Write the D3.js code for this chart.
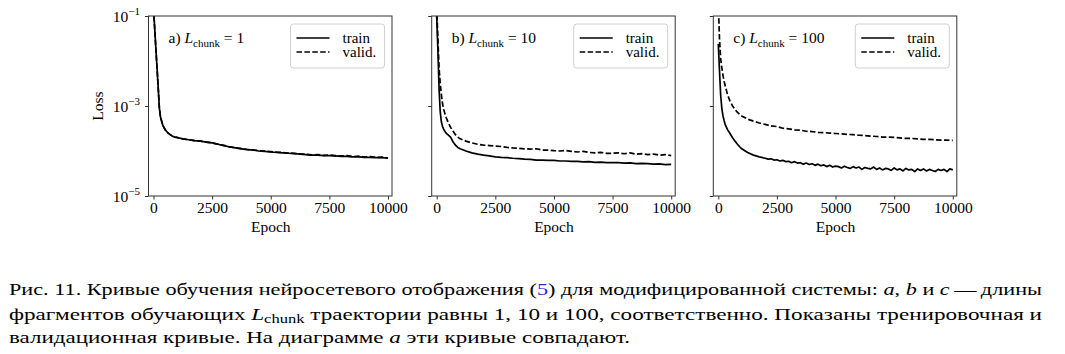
<!DOCTYPE html>
<html>
<head>
<meta charset="utf-8">
<script src="https://cdn.jsdelivr.net/npm/d3@7"></script>
<style>
  html, body { margin: 0; padding: 0; background: #fff; }
  svg { display: block; }
  svg text { font-family: "Liberation Serif", "DejaVu Serif", serif; }
</style>
</head>
<body>
<svg id="chart" width="1065" height="354"></svg>
<script>
// ---------------- DATA ----------------
const epochs = [0, 50, 100, 150, 200, 250, 300, 400, 500, 600, 700, 800, 900, 1000,
  1250, 1500, 1750, 2000, 2250, 2500, 2750, 3000, 3250, 3500, 3750, 4000, 4250, 4500,
  4750, 5000, 5250, 5500, 5750, 6000, 6250, 6500, 6750, 7000, 7250, 7500, 7750, 8000,
  8250, 8500, 8750, 9000, 9250, 9500, 9750, 10000];

// epochs for the noisy train curve of panel c (denser sampling in the tail)
const epochsC = [0, 50, 100, 150, 200, 250, 300, 400, 500, 600, 700, 800, 900, 1000,
  1250, 1500, 1750, 2000, 2125, 2250, 2375, 2500, 2625, 2750, 2875, 3000, 3125, 3250,
  3375, 3500, 3625, 3750, 3875, 4000, 4125, 4250, 4375, 4500, 4625, 4750, 4875, 5000,
  5125, 5250, 5375, 5500, 5625, 5750, 5875, 6000, 6125, 6250, 6375, 6500, 6625, 6750,
  6875, 7000, 7125, 7250, 7375, 7500, 7625, 7750, 7875, 8000, 8125, 8250, 8375, 8500,
  8625, 8750, 8875, 9000, 9125, 9250, 9375, 9500, 9625, 9750, 9875, 10000];

// a) L_chunk = 1
const trainA = [1.5e-1, 5.4e-2, 1.95e-2, 7.1e-3, 2.6e-3, 9.1e-4, 5.6e-4, 3.7e-4, 2.95e-4, 2.57e-4,
  2.34e-4, 2.14e-4, 2.04e-4, 2.0e-4, 1.86e-4, 1.78e-4, 1.70e-4, 1.66e-4, 1.58e-4, 1.51e-4,
  1.41e-4, 1.32e-4, 1.23e-4, 1.17e-4, 1.12e-4, 1.07e-4, 1.05e-4, 1.0e-4, 9.8e-5, 9.5e-5,
  9.3e-5, 9.1e-5, 8.9e-5, 8.7e-5, 8.5e-5, 8.3e-5, 8.1e-5, 8.1e-5, 7.9e-5, 7.9e-5,
  7.8e-5, 7.6e-5, 7.6e-5, 7.4e-5, 7.4e-5, 7.2e-5, 7.2e-5, 7.1e-5, 7.1e-5, 6.9e-5];
const validA = [1.5e-1, 5.4e-2, 1.95e-2, 7.1e-3, 2.6e-3, 9.1e-4, 5.6e-4, 3.7e-4, 2.95e-4, 2.57e-4,
  2.34e-4, 2.14e-4, 2.04e-4, 2.0e-4, 1.86e-4, 1.78e-4, 1.70e-4, 1.66e-4, 1.58e-4, 1.51e-4,
  1.42e-4, 1.33e-4, 1.24e-4, 1.18e-4, 1.13e-4, 1.08e-4, 1.06e-4, 1.01e-4, 9.9e-5, 9.7e-5,
  9.4e-5, 9.3e-5, 9.0e-5, 8.9e-5, 8.6e-5, 8.5e-5, 8.2e-5, 8.3e-5, 8.0e-5, 8.1e-5,
  7.9e-5, 7.8e-5, 7.9e-5, 7.5e-5, 7.7e-5, 7.3e-5, 7.5e-5, 7.2e-5, 7.3e-5, 7.0e-5];

// b) L_chunk = 10
const trainB = [1.0e-1, 1.78e-2, 2.5e-3, 7.6e-4, 4.4e-4, 3.5e-4, 3.0e-4, 2.5e-4, 2.24e-4, 2.0e-4,
  1.58e-4, 1.35e-4, 1.2e-4, 1.12e-4, 1.0e-4, 9.1e-5, 8.5e-5, 8.1e-5, 7.8e-5, 7.4e-5,
  7.2e-5, 7.1e-5, 6.9e-5, 6.8e-5, 6.6e-5, 6.5e-5, 6.3e-5, 6.3e-5, 6.2e-5, 6.2e-5,
  6.0e-5, 6.0e-5, 5.9e-5, 5.9e-5, 5.75e-5, 5.8e-5, 5.6e-5, 5.65e-5, 5.5e-5, 5.55e-5,
  5.5e-5, 5.4e-5, 5.45e-5, 5.25e-5, 5.3e-5, 5.25e-5, 5.1e-5, 5.15e-5, 5.0e-5, 5.05e-5];
const validB = [1.6e-1, 3.2e-2, 7.1e-3, 3.2e-3, 1.78e-3, 1.12e-3, 8.3e-4, 5.6e-4, 4.2e-4, 3.3e-4,
  2.75e-4, 2.3e-4, 2.04e-4, 1.86e-4, 1.66e-4, 1.51e-4, 1.41e-4, 1.35e-4, 1.32e-4, 1.29e-4,
  1.26e-4, 1.2e-4, 1.17e-4, 1.15e-4, 1.12e-4, 1.10e-4, 1.12e-4, 1.05e-4, 1.05e-4, 1.02e-4,
  1.0e-4, 1.02e-4, 9.8e-5, 9.5e-5, 9.8e-5, 9.3e-5, 9.1e-5, 9.3e-5, 8.9e-5, 8.9e-5,
  9.1e-5, 8.7e-5, 9.1e-5, 8.5e-5, 8.7e-5, 8.3e-5, 8.5e-5, 8.1e-5, 8.3e-5, 7.9e-5];

// c) L_chunk = 100  (trainC follows epochsC, validC follows epochs)
const trainC = [2.4e-2, 6.3e-3, 1.78e-3, 8.9e-4, 6.0e-4, 4.7e-4, 3.8e-4, 2.95e-4, 2.45e-4, 2.0e-4,
  1.70e-4, 1.45e-4, 1.26e-4, 1.12e-4, 9.3e-5, 8.1e-5, 7.4e-5, 6.9e-5,
  6.6e-5, 6.7e-5, 6.3e-5, 6.4e-5, 6.0e-5, 6.2e-5, 5.8e-5, 5.9e-5, 5.5e-5, 5.8e-5,
  5.4e-5, 5.5e-5, 5.1e-5, 5.4e-5, 5.0e-5, 5.2e-5, 4.8e-5, 5.1e-5, 4.7e-5, 4.9e-5,
  4.5e-5, 4.8e-5, 4.4e-5, 4.6e-5, 4.5e-5, 4.2e-5, 4.6e-5, 4.3e-5, 4.1e-5, 4.5e-5,
  4.2e-5, 4.4e-5, 3.9e-5, 4.3e-5, 4.1e-5, 4.0e-5, 4.4e-5, 3.9e-5, 4.2e-5, 3.8e-5,
  4.1e-5, 4.0e-5, 3.7e-5, 4.2e-5, 3.8e-5, 4.0e-5, 3.6e-5, 4.1e-5, 3.8e-5, 3.9e-5,
  3.5e-5, 4.0e-5, 3.7e-5, 4.0e-5, 3.6e-5, 3.9e-5, 3.7e-5, 3.5e-5, 3.9e-5, 3.7e-5,
  3.9e-5, 3.5e-5, 4.0e-5, 3.8e-5];
const validC = [2.0e-1, 3.2e-2, 1.12e-2, 7.1e-3, 4.8e-3, 3.5e-3, 2.75e-3, 1.74e-3, 1.29e-3, 1.02e-3,
  8.5e-4, 7.4e-4, 6.6e-4, 6.0e-4, 5.1e-4, 4.6e-4, 4.2e-4, 3.9e-4, 3.6e-4, 3.5e-4,
  3.2e-4, 3.1e-4, 2.95e-4, 2.9e-4, 2.75e-4, 2.7e-4, 2.6e-4, 2.57e-4, 2.5e-4, 2.45e-4,
  2.4e-4, 2.34e-4, 2.3e-4, 2.24e-4, 2.2e-4, 2.14e-4, 2.1e-4, 2.04e-4, 2.04e-4, 2.0e-4,
  1.95e-4, 1.9e-4, 1.9e-4, 1.86e-4, 1.82e-4, 1.82e-4, 1.78e-4, 1.74e-4, 1.74e-4, 1.72e-4];

const panelLabels = ["a)", "b)", "c)"];
const chunkValues = ["1", "10", "100"];
const xTicks = [0, 2500, 5000, 7500, 10000];
const yTicks = [1e-1, 1e-3, 1e-5];
const yTickExponents = ["\u22121", "\u22123", "\u22125"];
const legendLabels = ["train", "valid."];
const xLabel = "Epoch";
const yLabel = "Loss";

const captionLines = [
  [["Рис. 11. Кривые обучения нейросетевого отображения (", ""], ["5", "link"], [") для модифицированной системы: ", ""], ["a", "it"], [", ", ""], ["b", "it"], [" и ", ""], ["c", "it"], ["\u2009—\u2009длины", ""]],
  [["фрагментов обучающих ", ""], ["L", "it"], ["chunk", "sub"], [" траектории равны 1, 10 и 100, соответственно. Показаны тренировочная и", "base"]],
  [["валидационная кривые. На диаграмме ", ""], ["a", "it"], [" эти кривые совпадают.", ""]]
];

// ---------------- LAYOUT ----------------
const svg = d3.select("#chart");
const serif = "Liberation Serif, DejaVu Serif, serif";
const panelLefts = [148.5, 431.7, 713.3];
const panelW = 243.5, plotTop = 16, panelH = 180;
const series = [
  [[epochs, trainA], [epochs, validA]],
  [[epochs, trainB], [epochs, validB]],
  [[epochsC, trainC], [epochs, validC]]
];

panelLefts.forEach((left, i) => {
  const x = d3.scaleLinear().domain([-213, 10171]).range([left, left + panelW]);
  const y = d3.scaleLog().domain([1e-5, 1e-1]).range([plotTop + panelH, plotTop]);
  const g = svg.append("g");

  const clipId = "clip" + i;
  svg.append("clipPath").attr("id", clipId).append("rect")
    .attr("x", left).attr("y", plotTop).attr("width", panelW).attr("height", panelH);

  const line = d3.line().x(d => x(d[0])).y(d => y(d[1]));
  const zip = ([ep, vals]) => vals.map((v, k) => [ep[k], v]);
  const [tr, va] = series[i];

  g.append("path").datum(zip(tr)).attr("clip-path", `url(#${clipId})`)
    .attr("d", line).attr("fill", "none").attr("stroke", "#000")
    .attr("stroke-width", 1.7).attr("stroke-linejoin", "round");
  g.append("path").datum(zip(va)).attr("clip-path", `url(#${clipId})`)
    .attr("d", line).attr("fill", "none").attr("stroke", "#000")
    .attr("stroke-width", 1.7).attr("stroke-dasharray", "5.5,2.4");

  // frame
  g.append("rect").attr("x", left).attr("y", plotTop).attr("width", panelW).attr("height", panelH)
    .attr("fill", "none").attr("stroke", "#333").attr("stroke-width", 1);

  // x axis
  const xa = g.append("g").attr("transform", `translate(0,${plotTop + panelH})`)
    .call(d3.axisBottom(x).tickValues(xTicks).tickSize(3.5).tickPadding(2).tickFormat(d3.format("d")));
  xa.attr("font-family", null);
  xa.select(".domain").remove();
  xa.selectAll("line").attr("stroke", "#333");
  xa.selectAll("text").style("font-family", serif).attr("font-size", 15.5).attr("fill", "#000");

  // y axis
  const ya = g.append("g").attr("transform", `translate(${left},0)`)
    .call(d3.axisLeft(y).tickValues(yTicks).tickSize(3.5).tickFormat(""));
  ya.attr("font-family", null);
  ya.select(".domain").remove();
  ya.selectAll("line").attr("stroke", "#333");
  if (i === 0) {
    ya.selectAll(".tick").each(function(d) {
      const t = d3.select(this).append("text")
        .attr("x", -8.5).attr("y", 5.3).attr("text-anchor", "end")
        .style("font-family", serif).attr("font-size", 15.5).attr("fill", "#000");
      t.append("tspan").text("10");
      t.append("tspan").attr("font-size", 11).attr("dy", -7).text(yTickExponents[yTicks.indexOf(d)]);
    });
    svg.append("text").attr("transform", `translate(103,${plotTop + panelH / 2}) rotate(-90)`)
      .attr("text-anchor", "middle").style("font-family", serif).attr("font-size", 15.5)
      .text(yLabel);
  }

  // x label
  svg.append("text").attr("x", x(5000)).attr("y", 232).attr("text-anchor", "middle")
    .style("font-family", serif).attr("font-size", 15.5).text(xLabel);

  // annotation
  const ann = svg.append("text").attr("x", left + 20).attr("y", 43)
    .style("font-family", serif).attr("font-size", 15.5);
  ann.append("tspan").text(panelLabels[i] + " ");
  ann.append("tspan").attr("font-style", "italic").text("L");
  ann.append("tspan").attr("font-size", 11).attr("dy", 3.5).text("chunk");
  ann.append("tspan").attr("dy", -3.5).text(" = " + chunkValues[i]);

  // legend
  const lx = left + panelW - 7.5 - 94, ly = 24;
  g.append("rect").attr("x", lx).attr("y", ly).attr("width", 94).attr("height", 44)
    .attr("rx", 3).attr("fill", "#fff").attr("fill-opacity", 0.8)
    .attr("stroke", "#d0d0d0").attr("stroke-width", 1);
  legendLabels.forEach((lab, k) => {
    const yy = ly + 14 + k * 14;
    g.append("line").attr("x1", lx + 6).attr("x2", lx + 39).attr("y1", yy).attr("y2", yy)
      .attr("stroke", "#000").attr("stroke-width", 1.7)
      .attr("stroke-dasharray", k === 1 ? "5.5,2.4" : null);
    g.append("text").attr("x", lx + 52).attr("y", yy + 4.5).style("font-family", serif)
      .attr("font-size", 15).text(lab);
  });
});

// ---------------- CAPTION ----------------
const capBase = [295, 319.5, 343];
const capWidths = [1033, 1033, 621];
captionLines.forEach((parts, li) => {
  const t = svg.append("text").attr("x", 9).attr("y", capBase[li])
    .style("font-family", serif).attr("font-size", 17.5).attr("fill", "#000")
    .attr("textLength", capWidths[li]).attr("lengthAdjust", "spacingAndGlyphs");
  parts.forEach(([s, kind]) => {
    const sp = t.append("tspan").text(s);
    if (kind === "it") sp.attr("font-style", "italic");
    if (kind === "link") sp.attr("fill", "#2a2ad0");
    if (kind === "sub") sp.attr("font-size", 12.5).attr("dy", 3);
    if (kind === "base") sp.attr("dy", -3);
  });
});
</script>
</body>
</html>
